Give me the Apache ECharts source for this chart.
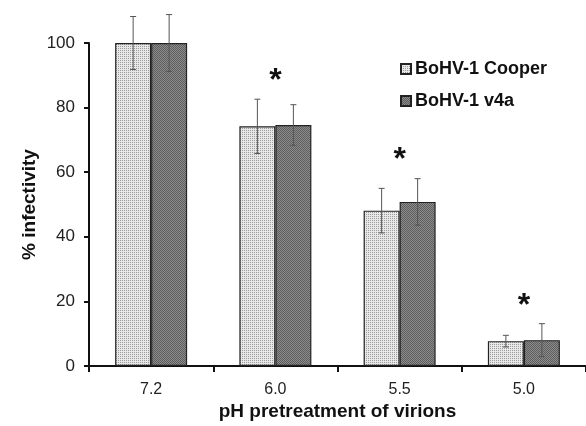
<!DOCTYPE html>
<html>
<head>
<meta charset="utf-8">
<script src="https://cdn.jsdelivr.net/npm/echarts@6/dist/echarts.min.js"></script>
<style>
  html, body { margin: 0; padding: 0; background: #fff; }
  #main { width: 586px; height: 426px; }
</style>
</head>
<body>
<div id="main"></div>
<script>
// data
const categories = ['7.2', '6.0', '5.5', '5.0'];
const cooperValues = [100, 74.2, 48.1, 7.7];
const cooperErrors = [8.2, 8.4, 6.9, 1.8];
const v4aValues = [100, 74.6, 50.8, 8.0];
const v4aErrors = [8.8, 6.3, 7.2, 5.1];
const significant = [false, true, true, true];
const yTicks = [0, 20, 40, 60, 80, 100];

// small checker textures like the printed figure
function makePattern(bg, fg, step) {
  const c = document.createElement('canvas');
  c.width = 4; c.height = 4;
  const ctx = c.getContext('2d');
  ctx.fillStyle = bg;
  ctx.fillRect(0, 0, 4, 4);
  ctx.fillStyle = fg;
  for (let y = 0; y < 4; y++) {
    for (let x = 0; x < 4; x++) {
      if ((x + y) % 2 === 0 && (step === 1 || (x % 2 === 0))) ctx.fillRect(x, y, 1, 1);
    }
  }
  return { image: c, repeat: 'repeat' };
}
const cooperFill = makePattern('#e8e8e8', '#9a9a9a', 2);
const v4aFill = makePattern('#8c8c8c', '#5e5e5e', 1);

const chart = echarts.init(document.getElementById('main'), null, { renderer: 'canvas' });

// error bar drawing (per series, offset to the bar's center)
function errorRenderer(values, errors, offset) {
  return function (params, api) {
    const i = api.value(0);
    const top = api.coord([i, values[i] + errors[i]]);
    const bot = api.coord([i, values[i] - errors[i]]);
    const x = top[0] + offset;
    const cap = 3;
    const style = { stroke: '#555', lineWidth: 1 };
    return {
      type: 'group',
      children: [
        { type: 'line', shape: { x1: x, y1: top[1], x2: x, y2: bot[1] }, style: style },
        { type: 'line', shape: { x1: x - cap, y1: top[1], x2: x + cap, y2: top[1] }, style: style },
        { type: 'line', shape: { x1: x - cap, y1: bot[1], x2: x + cap, y2: bot[1] }, style: style }
      ]
    };
  };
}

const barW = 36;

const option = {
  animation: false,
  backgroundColor: '#fff',
  textStyle: { fontFamily: 'Liberation Sans, Arial, sans-serif' },
  grid: { left: 89, right: -3, top: 43, bottom: 60, containLabel: false },
  legend: {
    data: ['BoHV-1 Cooper', 'BoHV-1 v4a'],
    orient: 'vertical',
    icon: 'rect',
    left: 395,
    top: 55,
    itemWidth: 10,
    itemHeight: 10,
    itemGap: 14,
    textStyle: { fontSize: 18, fontWeight: 'bold', color: '#111', padding: [0, 0, 0, -1] }
  },
  xAxis: {
    type: 'category',
    data: categories,
    name: 'pH pretreatment of virions',
    nameLocation: 'middle',
    nameGap: 36,
    nameMoveOverlap: false,
    nameTextStyle: { fontSize: 19, fontWeight: 'bold', color: '#111' },
    axisLine: { lineStyle: { color: '#111', width: 2 } },
    axisTick: { show: true, length: 6, lineStyle: { color: '#111', width: 2 } },
    axisLabel: { fontSize: 16, color: '#222', margin: 16 },
    splitLine: { show: false }
  },
  yAxis: {
    type: 'value',
    min: 0,
    max: 100,
    interval: 20,
    name: '% infectivity',
    nameLocation: 'middle',
    nameGap: 50,
    nameMoveOverlap: false,
    nameRotate: 90,
    nameTextStyle: { fontSize: 19, fontWeight: 'bold', color: '#111' },
    axisLine: { show: true, lineStyle: { color: '#111', width: 2 } },
    axisTick: { show: true, length: 5, lineStyle: { color: '#111', width: 2 } },
    axisLabel: {
      fontSize: 17, color: '#222', margin: 14,
      formatter: function (v) { return yTicks.indexOf(v) >= 0 ? String(v) : ''; }
    },
    splitLine: { show: false }
  },
  series: [
    {
      name: 'BoHV-1 Cooper',
      type: 'bar',
      data: cooperValues,
      barWidth: barW,
      barGap: '0%',
      itemStyle: { color: cooperFill, borderColor: '#222', borderWidth: 1.2 }
    },
    {
      name: 'BoHV-1 v4a',
      type: 'bar',
      data: v4aValues,
      barWidth: barW,
      barGap: '0%',
      itemStyle: { color: v4aFill, borderColor: '#222', borderWidth: 1.2 }
    },
    {
      type: 'custom',
      name: 'err-cooper',
      data: categories.map((c, i) => [i]),
      renderItem: errorRenderer(cooperValues, cooperErrors, -barW / 2),
      z: 5,
      silent: true
    },
    {
      type: 'custom',
      name: 'err-v4a',
      data: categories.map((c, i) => [i]),
      renderItem: errorRenderer(v4aValues, v4aErrors, barW / 2),
      z: 5,
      silent: true
    },
    {
      type: 'custom',
      name: 'stars',
      data: categories.map((c, i) => [i]),
      silent: true,
      z: 6,
      renderItem: function (params, api) {
        const i = api.value(0);
        if (!significant[i]) return null;
        const topVal = Math.max(cooperValues[i] + cooperErrors[i], v4aValues[i] + v4aErrors[i]);
        const p = api.coord([i, topVal]);
        return {
          type: 'text',
          style: {
            text: '*',
            x: p[0],
            y: p[1] - 2,
            align: 'center',
            verticalAlign: 'bottom',
            fontSize: 32,
            fontWeight: 'bold',
            fill: '#111',
            fontFamily: 'Liberation Sans, Arial, sans-serif'
          }
        };
      }
    }
  ]
};

chart.setOption(option);
</script>
</body>
</html>
